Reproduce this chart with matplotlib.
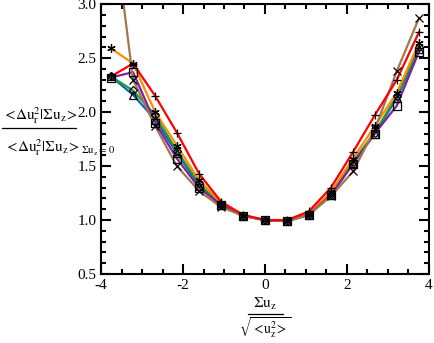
import numpy as np
import matplotlib
matplotlib.use("Agg")
import matplotlib.pyplot as plt
from matplotlib.ticker import MultipleLocator

plt.rcParams['font.family'] = ['Liberation Serif', 'DejaVu Serif']
plt.rcParams['mathtext.fontset'] = 'stix'

x = [-3.76, -3.22, -2.68, -2.15, -1.61, -1.07, -0.54, 0.0, 0.54, 1.07, 1.61, 2.15, 2.68, 3.22, 3.76]

blue   = [2.33, 2.16, 1.93, 1.62, 1.32, 1.14, 1.04, 1.0, 0.99, 1.05, 1.23, 1.53, 1.80, 2.13, 2.58]
green  = [2.33, 2.20, 1.97, 1.64, 1.34, 1.14, 1.04, 1.0, 0.99, 1.05, 1.24, 1.54, 1.81, 2.15, 2.60]
orange = [2.59, 2.45, 2.00, 1.69, 1.37, 1.16, 1.04, 1.0, 0.99, 1.06, 1.26, 1.57, 1.87, 2.18, 2.64]
purple = [2.32, 2.37, 1.90, 1.57, 1.30, 1.14, 1.04, 1.0, 0.99, 1.05, 1.23, 1.52, 1.80, 2.06, 2.56]
brown  = [3.93, 2.30, 1.87, 1.50, 1.27, 1.12, 1.04, 1.0, 0.99, 1.05, 1.22, 1.45, 1.84, 2.38, 2.87]
red    = [2.33, 2.45, 2.15, 1.81, 1.43, 1.17, 1.05, 1.0, 1.00, 1.08, 1.30, 1.63, 1.97, 2.30, 2.74]

series = [
    (blue, '#1060c0', '^'),
    (green, '#20a030', 'D'),
    (orange, '#ff8c00', (6, 2, 0)),
    (purple, '#8020a0', 's'),
    (brown, '#a07850', 'x'),
    (red, '#ff0000', '+'),
]

fig = plt.figure(figsize=(4.34, 3.43), dpi=100)
ax = fig.add_axes([0.233, 0.201, 0.755, 0.787])

for vals, col, mk in series:
    ax.plot(x, vals, color=col, lw=1.6, zorder=2)
for vals, col, mk in series:
    ax.plot(x, vals, ls='none', marker=mk, ms=6 if mk != 'D' else 4.5,
            mfc='none', mec='black', mew=0.9, zorder=3)

ax.set_xlim(-4, 4)
ax.set_ylim(0.5, 3.0)
ax.xaxis.set_minor_locator(MultipleLocator(0.5))
ax.yaxis.set_minor_locator(MultipleLocator(0.1))
ax.tick_params(which='both', direction='in', top=True, right=True, width=1.5)
ax.tick_params(which='major', length=7, labelsize=11)
ax.tick_params(which='minor', length=3.5)
ax.set_xticks([-4, -2, 0, 2, 4])
ax.set_xticklabels(['-4', '-2', '0', '2', '4'])
ax.set_yticks([0.5, 1.0, 1.5, 2.0, 2.5, 3.0])
ax.set_yticklabels(['0.5', '1.0', '1.5', '2.0', '2.5', '3.0'])
for s in ax.spines.values():
    s.set_linewidth(1.5)

# y label as fraction
fig.text(40/434, 1-116/343, r'$<\!\Delta\mathrm{u}_\mathrm{r}^2|\Sigma\mathrm{u}_\mathrm{z}\!>$',
         ha='center', va='center', fontsize=11)
fig.text(4/434, 1-148/343, r'$<\!\Delta\mathrm{u}_\mathrm{r}^2|\Sigma\mathrm{u}_\mathrm{z}\!>_{\Sigma\mathrm{u}_\mathrm{z}=\,0}$',
         ha='left', va='center', fontsize=11)
fig.add_artist(plt.Line2D([2/434, 76/434], [1-128/343, 1-128/343], color='black', lw=0.9,
                          transform=fig.transFigure))

# x label as fraction
fig.text(265/434, 1-304/343, r'$\Sigma\mathrm{u}_\mathrm{z}$', ha='center', va='center', fontsize=11)
fig.text(265/434, 1-328/343, r'$\sqrt{<\!\mathrm{u}_\mathrm{z}^2\!>}$', ha='center', va='center', fontsize=10)
fig.add_artist(plt.Line2D([248/434, 283/434], [1-314/343, 1-314/343], color='black', lw=0.9,
                          transform=fig.transFigure))

fig.savefig('out.png', dpi=100)
